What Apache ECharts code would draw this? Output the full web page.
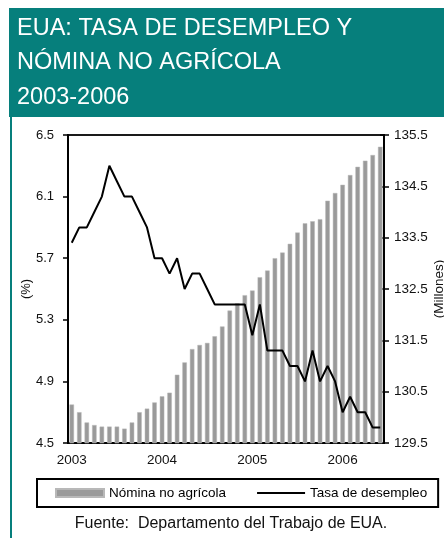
<!DOCTYPE html>
<html>
<head>
<meta charset="utf-8">
<script src="https://cdn.jsdelivr.net/npm/echarts@6/dist/echarts.min.js"></script>
<style>
html,body{margin:0;padding:0;background:#fff;}
#chart{width:444px;height:538px;}
</style>
</head>
<body>
<div id="chart"></div>
<script>
// ---- data ----
const years = [2003, 2004, 2005, 2006];
const monthsPerYear = ['01','02','03','04','05','06','07','08','09','10','11','12'];
const categories = [];
years.forEach(y => monthsPerYear.forEach(m => { if (!(y === 2006 && +m > 6)) categories.push(y + '-' + m); }));

// Nómina no agrícola (millones)
const nomina = [
  130.25, 130.10, 129.90, 129.85, 129.82, 129.82, 129.82, 129.78, 129.90, 130.10, 130.17, 130.29,
  130.41, 130.48, 130.83, 131.07, 131.33, 131.41, 131.45, 131.58, 131.77, 132.08, 132.22, 132.38,
  132.47, 132.73, 132.86, 133.10, 133.21, 133.38, 133.60, 133.78, 133.82, 133.86, 134.22, 134.37,
  134.53, 134.72, 134.88, 135.00, 135.11, 135.27
];
// Tasa de desempleo (%)
const desempleo = [
  5.8, 5.9, 5.9, 6.0, 6.1, 6.3, 6.2, 6.1, 6.1, 6.0, 5.9, 5.7,
  5.7, 5.6, 5.7, 5.5, 5.6, 5.6, 5.5, 5.4, 5.4, 5.4, 5.4, 5.4,
  5.2, 5.4, 5.1, 5.1, 5.1, 5.0, 5.0, 4.9, 5.1, 4.9, 5.0, 4.9,
  4.7, 4.8, 4.7, 4.7, 4.6, 4.6
];
const leftTicks = [4.5, 4.9, 5.3, 5.7, 6.1, 6.5];
const rightTicks = [129.5, 130.5, 131.5, 132.5, 133.5, 134.5, 135.5];

const titleText = 'EUA: TASA DE DESEMPLEO Y\nNÓMINA NO AGRÍCOLA\n2003-2006';
const sourceText = 'Fuente:  Departamento del Trabajo de EUA.';

const FONT = '"Liberation Sans", Arial, sans-serif';
const TEAL = '#067f7c';
const LINE_ICON = 'path://M0,0 L48,0 L48,0.01 Z M0,3 L48,3 L48,5 L0,5 Z M0,8 L48,8 L48,7.99 Z';

const chart = echarts.init(document.getElementById('chart'));
chart.setOption({
  animation: false,
  backgroundColor: '#fff',
  textStyle: { fontFamily: FONT },
  graphic: [
    { type: 'rect', shape: { x: 9, y: 8, width: 435, height: 109 }, style: { fill: TEAL }, z: 0 },
    { type: 'rect', shape: { x: 10, y: 117, width: 2, height: 421 }, style: { fill: TEAL }, z: 0 },
    { type: 'text', left: 17, top: 11, z: 10,
      style: { text: titleText, fill: '#fff', font: '23.5px ' + FONT, lineHeight: 34.6 } },
    { type: 'text', x: 231, y: 524, z: 10,
      style: { text: sourceText, fill: '#111', font: '16px ' + FONT, textAlign: 'center', textVerticalAlign: 'middle' } }
  ],
  grid: { left: 68, right: 60, top: 135, bottom: 95, outerBoundsMode: 'none', containLabel: false,
          show: true, borderColor: '#1a1a1a', borderWidth: 2, backgroundColor: 'transparent' },
  legend: {
    left: 37, top: 479,
    padding: [7, 11, 7, 18],
    itemGap: 31,
    itemWidth: 48, itemHeight: 8,
    borderColor: '#000', borderWidth: 2,
    textStyle: { fontSize: 13.5, color: '#000', fontFamily: FONT },
    data: [
      { name: 'Nómina no agrícola', icon: 'rect' },
      { name: 'Tasa de desempleo', icon: LINE_ICON }
    ]
  },
  xAxis: {
    type: 'category',
    data: categories,
    boundaryGap: true,
    axisLine: { lineStyle: { color: '#000', width: 2 } },
    axisTick: { interval: 11, length: 5, lineStyle: { color: '#000', width: 1.5 } },
    axisLabel: { interval: 11, margin: 10, fontSize: 13.5, color: '#111', formatter: v => v.slice(0, 4) },
    splitLine: { show: false }
  },
  yAxis: [
    {
      type: 'value', position: 'left', min: leftTicks[0], max: leftTicks[leftTicks.length - 1], interval: 0.4,
      name: '(%)', nameLocation: 'middle', nameRotate: 90, nameGap: 35.5, nameMoveOverlap: false,
      nameTextStyle: { fontSize: 13, color: '#111' },
      axisLine: { show: true, lineStyle: { color: '#000', width: 2 } },
      axisTick: { show: true, length: 5, lineStyle: { color: '#000', width: 1.5 } },
      axisLabel: { fontSize: 13, color: '#111', margin: 14, formatter: v => v.toFixed(1) },
      splitLine: { show: false }
    },
    {
      type: 'value', position: 'right', min: rightTicks[0], max: rightTicks[rightTicks.length - 1], interval: 1,
      name: '(Millones)', nameLocation: 'middle', nameRotate: 90, nameGap: 48, nameMoveOverlap: false,
      nameTextStyle: { fontSize: 13.5, color: '#111' },
      axisLine: { show: true, lineStyle: { color: '#000', width: 2 } },
      axisTick: { show: true, length: 5, lineStyle: { color: '#000', width: 1.5 } },
      axisLabel: { fontSize: 13.5, color: '#111', margin: 10, formatter: v => v.toFixed(1) },
      splitLine: { show: false }
    },
    {
      type: 'value', position: 'right', min: rightTicks[0], max: rightTicks[rightTicks.length - 1], interval: 1,
      axisLine: { show: false },
      axisTick: { show: true, inside: true, length: 4, lineStyle: { color: '#000', width: 1.5 } },
      axisLabel: { show: false },
      splitLine: { show: false }
    }
  ],
  series: [
    {
      name: 'Nómina no agrícola', type: 'bar', yAxisIndex: 1, data: nomina,
      barWidth: 4.5,
      itemStyle: { color: '#9a9a9a', borderColor: '#b8b8b8', borderWidth: 0.5 },
      z: 2
    },
    {
      name: 'Tasa de desempleo', type: 'line', yAxisIndex: 0, data: desempleo,
      symbol: 'none',
      lineStyle: { color: '#000', width: 2 },
      itemStyle: { color: '#000' },
      z: 5
    }
  ]
});
</script>
</body>
</html>
